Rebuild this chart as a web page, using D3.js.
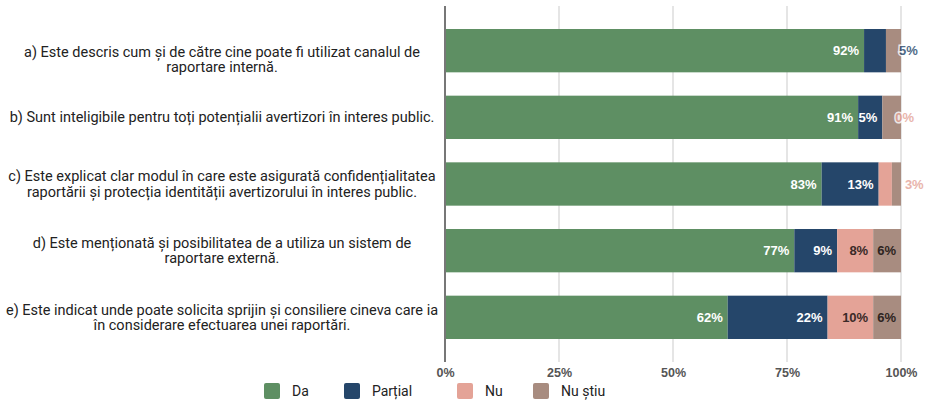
<!DOCTYPE html>
<html lang="ro">
<head>
    <meta charset="UTF-8">
    <title>Stacked bars</title>
    <script src="https://d3js.org/d3.v7.min.js"></script>
    <style>
        body { margin: 0; background: #fff; }
        svg { display: block; }
    </style>
</head>
<body>
<svg id="main" width="926" height="401"></svg>
<script>
    // data (shares in %, labels are rounded)
    const categories = [
        'a) Este descris cum și de către cine poate fi utilizat canalul de\nraportare internă.',
        'b) Sunt inteligibile pentru toți potențialii avertizori în interes public.',
        'c) Este explicat clar modul în care este asigurată confidențialitatea\nraportării și protecția identității avertizorului în interes public.',
        'd) Este menționată și posibilitatea de a utiliza un sistem de\nraportare externă.',
        'e) Este indicat unde poate solicita sprijin și consiliere cineva care ia\nîn considerare efectuarea unei raportări.'
    ];
    const seriesNames = ['Da', 'Parțial', 'Nu', 'Nu știu'];
    const da      = [91.9, 90.6, 82.6, 76.6, 62.0];
    const partial = [4.8, 5.3, 12.5, 9.4, 21.9];
    const nu      = [null, 0, 2.9, 7.9, 10.0];
    const nuStiu  = [3.3, 4.1, 2.0, 6.1, 6.1];
    const tickValues = [0, 25, 50, 75, 100];

    const colors = ['#5e8f63', '#25466a', '#e4a397', '#a88c80'];
    const labelColors = ['#fff', '#fff', '#3a2a28', '#2e2420'];

    const svg = d3.select('svg#main');
    const margin = {left: 445, right: 25, top: 29, bottom: 62};
    const W = 926, H = 401;

    const rows = categories.map((c, i) => ({
        cat: c, 'Da': da[i], 'Parțial': partial[i], 'Nu': nu[i] || 0, 'Nu știu': nuStiu[i]
    }));
    const stacked = d3.stack().keys(seriesNames)(rows);

    const x = d3.scaleLinear().domain([0, 100]).range([margin.left, W - margin.right]);
    const y = d3.scaleBand().domain(categories)
        .range([margin.top, H - margin.bottom]).paddingInner(0.35).paddingOuter(0);

    const gridTop = 6, gridBottom = 362;

    // grid lines
    svg.append('g').selectAll('line')
        .data(tickValues.slice(1))
        .join('line')
        .attr('x1', d => x(d)).attr('x2', d => x(d))
        .attr('y1', gridTop).attr('y2', gridBottom)
        .attr('stroke', '#dcdcdc').attr('stroke-width', 1.5);

    // bars
    const groups = svg.append('g').selectAll('g')
        .data(stacked)
        .join('g')
        .attr('fill', (d, i) => colors[i]);
    groups.selectAll('rect')
        .data(d => d)
        .join('rect')
        .attr('x', d => x(d[0]))
        .attr('y', d => y(d.data.cat))
        .attr('width', d => Math.max(0, x(d[1]) - x(d[0])))
        .attr('height', y.bandwidth());

    // zero axis line
    svg.append('line')
        .attr('x1', x(0)).attr('x2', x(0))
        .attr('y1', gridTop).attr('y2', gridBottom)
        .attr('stroke', '#777').attr('stroke-width', 2);

    // segment labels: inside when they fit, otherwise just right of the bar
    const lblFont = "bold 13px 'Liberation Sans', Arial, sans-serif";
    const ctx = document.createElement('canvas').getContext('2d');
    ctx.font = lblFont;
    const rawSeries = [da, partial, nu, nuStiu];
    const labelLayer = svg.append('g').style('font', lblFont);
    categories.forEach((cat, ci) => {
        let nextOut = 0;
        stacked.forEach((s, si) => {
            if (rawSeries[si][ci] === null) return;
            const d = s[ci];
            const txt = Math.round(d[1] - d[0]) + '%';
            const tw = ctx.measureText(txt).width;
            const x0 = x(d[0]), x1 = x(d[1]);
            const cy = y(cat) + y.bandwidth() / 2;
            if (x1 - x0 >= tw + 4) {
                labelLayer.append('text')
                    .attr('x', x1 - 5).attr('y', cy)
                    .attr('dy', '0.35em').attr('text-anchor', 'end')
                    .attr('fill', labelColors[si])
                    .text(txt);
            } else {
                const lx = Math.max(x1 + 13, nextOut);
                nextOut = lx + tw + 6;
                if (lx + tw > W) return;
                labelLayer.append('text')
                    .attr('x', lx).attr('y', cy)
                    .attr('dy', '0.35em')
                    .attr('fill', colors[si])
                    .attr('stroke', '#fff').attr('stroke-width', 3)
                    .attr('paint-order', 'stroke')
                    .attr('opacity', 0.8)
                    .text(txt);
            }
        });
    });

    // category labels
    const lineH = 15.5;
    const catG = svg.append('g')
        .style('font', "14.5px Roboto, sans-serif").attr('fill', '#222');
    categories.forEach((cat, ci) => {
        const lines = cat.split('\n');
        const nudge = ci === 0 ? 9 : 0;
        const cy = y(cat) + y.bandwidth() / 2 + nudge;
        const t = catG.append('text')
            .attr('text-anchor', 'middle')
            .attr('y', cy - (lines.length - 1) * lineH / 2);
        lines.forEach((l, li) => {
            t.append('tspan').attr('x', 222)
                .attr('dy', li === 0 ? '0.35em' : lineH).text(l);
        });
    });

    // x axis tick labels
    const xAxis = svg.append('g')
        .attr('transform', 'translate(0,' + gridBottom + ')')
        .call(d3.axisBottom(x).tickValues(tickValues).tickSize(0).tickPadding(6)
            .tickFormat(d => d + '%'));
    xAxis.select('.domain').remove();
    xAxis.selectAll('text')
        .style('font', "bold 12.5px 'Liberation Sans', Arial, sans-serif")
        .attr('fill', '#555');

    // legend
    const legendX = [264, 344, 457, 533];
    const leg = svg.append('g').selectAll('g')
        .data(seriesNames)
        .join('g')
        .attr('transform', (d, i) => 'translate(' + legendX[i] + ',383)');
    leg.append('rect')
        .attr('width', 16).attr('height', 16).attr('rx', 2)
        .attr('fill', (d, i) => colors[i]);
    leg.append('text')
        .attr('x', 28).attr('y', 8).attr('dy', '0.35em')
        .style('font', "14px Roboto, sans-serif").attr('fill', '#222')
        .text(d => d);
</script>
</body>
</html>
